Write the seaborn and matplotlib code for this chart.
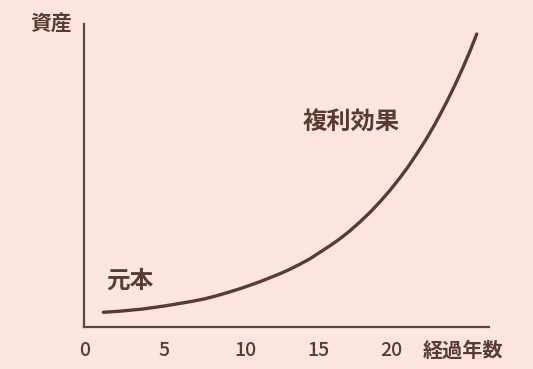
import matplotlib
matplotlib.use("Agg")
import matplotlib.pyplot as plt
import seaborn as sns
import pandas as pd

# ---- data ----
years = [1.19, 2.23, 3.67, 5.04, 6.61, 7.42, 8.17, 8.92, 9.73, 10.36, 10.98, 11.61,
         12.23, 12.86, 13.48, 14.11, 14.73, 15.36, 15.98, 16.61, 17.23, 17.86, 18.48,
         19.11, 19.73, 20.23, 20.79, 21.36, 21.92, 22.29, 22.67, 23.17, 23.67, 24.11, 24.53]
assets = [4.76, 5.12, 5.85, 6.87, 8.26, 9.08, 10.08, 11.23, 12.55, 13.71, 14.87, 16.19,
          17.51, 19.00, 20.65, 22.46, 24.61, 26.76, 29.07, 31.71, 34.62, 37.79, 41.26,
          45.06, 49.22, 52.79, 57.18, 61.88, 66.96, 70.63, 74.46, 79.88, 85.66, 91.11, 96.70]
tick_labels = ["0", "5", "10", "15", "20"]
tick_pos = [0.0, 5.0, 10.04, 14.63, 19.21]
x_title = "経過年数"
y_title = "資産"
label_principal = "元本"
label_compound = "複利効果"

df = pd.DataFrame({"year": years, "asset": assets})

BG = "#fde5e0"
INK = "#5a3b34"
AXIS = "#5e4540"

sns.set_theme(style="white")
plt.rcParams["font.family"] = ["Noto Sans CJK JP", "DejaVu Sans"]

W, H = 533, 369
fig = plt.figure(figsize=(W / 100, H / 100), dpi=100, facecolor=BG)
ax = fig.add_axes([84.3 / W, 42.3 / H, 404.7 / W, 302.7 / H])
ax.set_facecolor("none")

sns.lineplot(data=df, x="year", y="asset", ax=ax, color=INK, linewidth=2.4,
             solid_capstyle="round", solid_joinstyle="round", clip_on=False)

ax.set_xlim(0, 404.7 / 16)
ax.set_ylim(0, 100)

for s in ["top", "right"]:
    ax.spines[s].set_visible(False)
for s in ["left", "bottom"]:
    ax.spines[s].set_color(AXIS)
    ax.spines[s].set_linewidth(1.6)

ax.set_xticks(tick_pos)
ax.set_xticklabels(tick_labels)
ax.set_yticks([])
ax.tick_params(axis="x", length=0, pad=10.5, labelsize=14, colors=INK)
for lbl in ax.get_xticklabels():
    lbl.set_fontweight("medium")
ax.set_xlabel("")
ax.set_ylabel("")

ax.text(16.7, 67.7, label_compound, ha="center", va="center", fontsize=17.5,
        fontweight="bold", color=INK)
ax.text(2.86, 15.1, label_principal, ha="center", va="center", fontsize=17,
        fontweight="bold", color=INK)

fig.text(51.5 / W, 1 - 24 / H, y_title, ha="center", va="center", fontsize=15,
         fontweight="bold", color=INK)
fig.text(462.5 / W, 1 - 350.5 / H, x_title, ha="center", va="center", fontsize=14.5,
         fontweight="bold", color=INK)

fig.savefig("out.png", dpi=100, facecolor=BG)
